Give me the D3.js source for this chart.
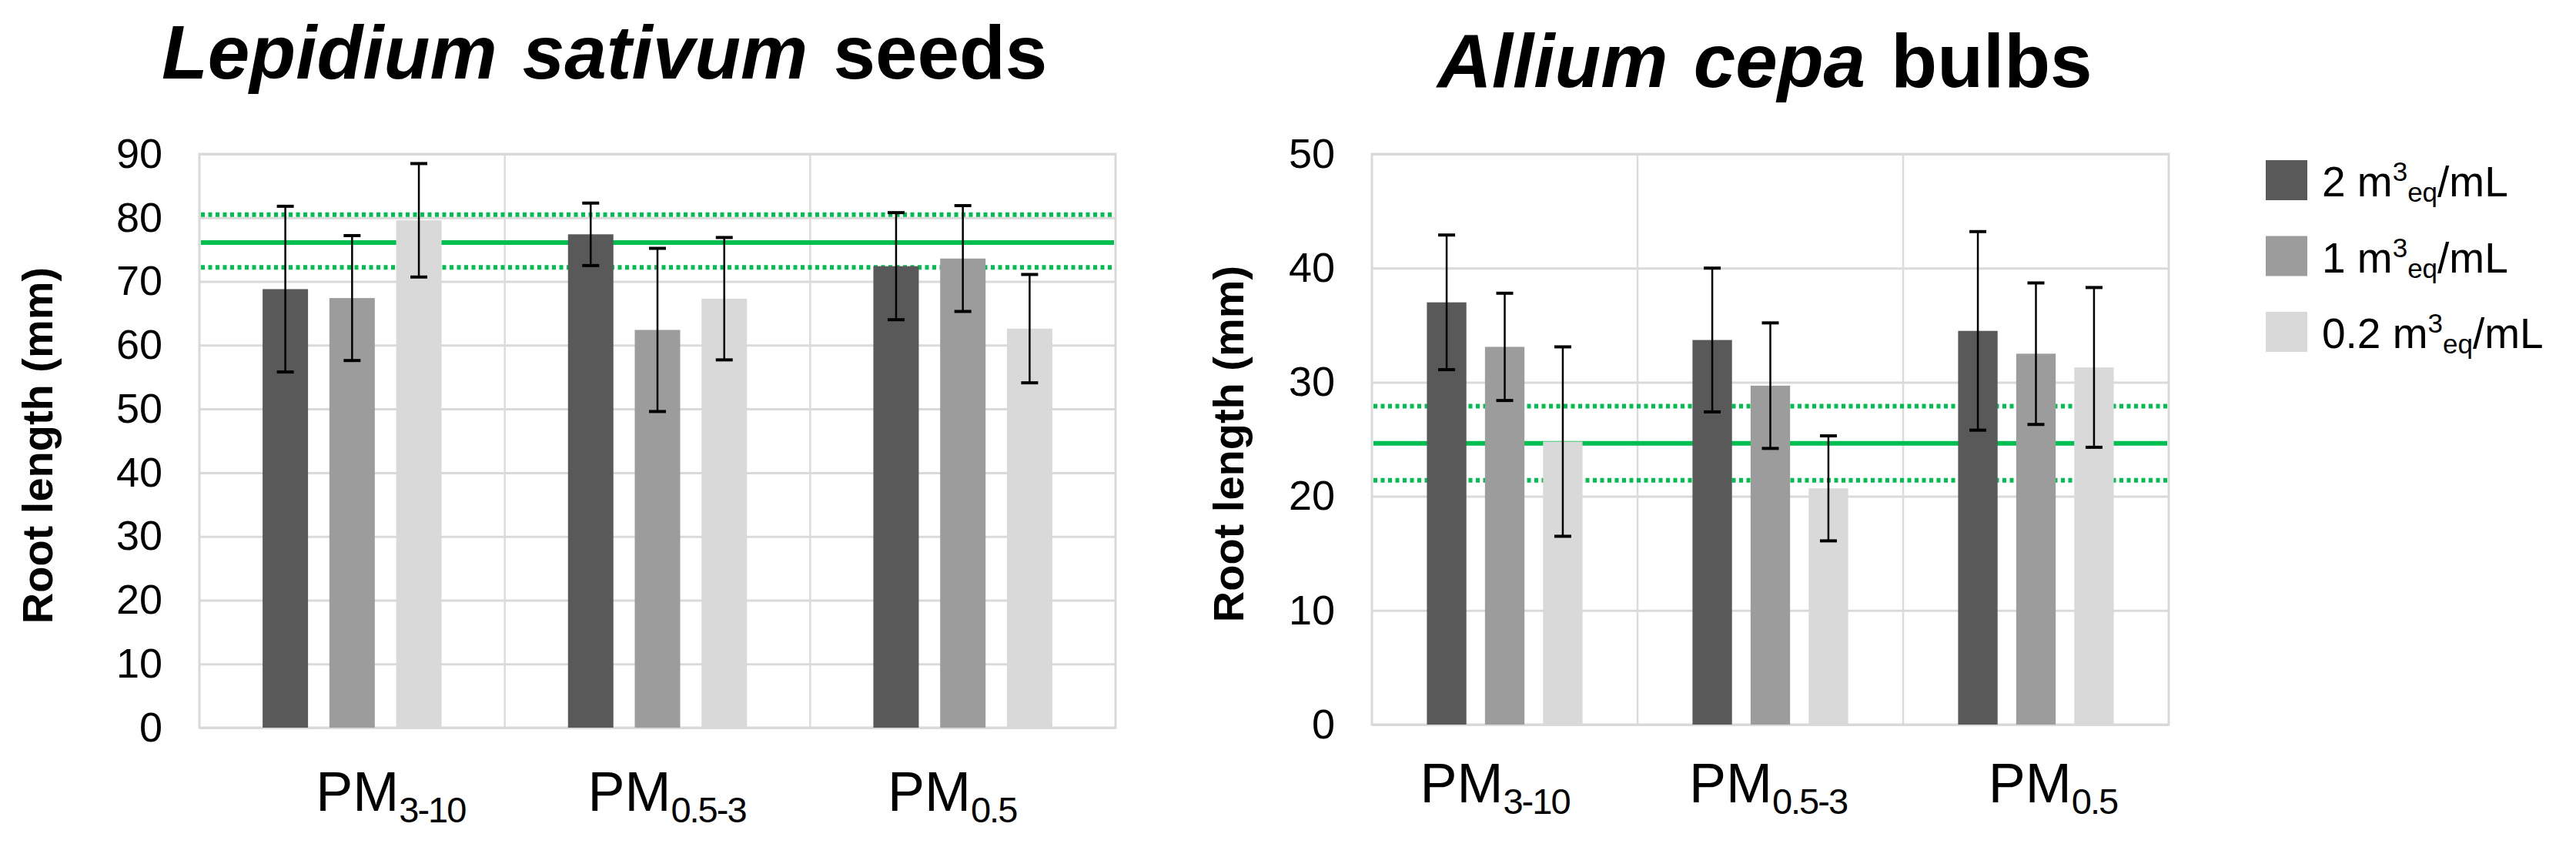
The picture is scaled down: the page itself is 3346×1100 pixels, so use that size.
<!DOCTYPE html>
<html><head><meta charset="utf-8">
<script src="https://cdn.jsdelivr.net/npm/d3@7"></script>
<style>
body{margin:0;background:#fff}
svg{display:block}
text{font-family:"Liberation Sans",Arial,Helvetica,sans-serif;fill:#000}
</style>
</head><body>
<svg id="chart" width="3346" height="1100"></svg>
<script>
// ---------- data ----------
const categoryBase = "PM";
const categorySubs = ["3-10", "0.5-3", "0.5"];
const seriesLabels = ["2", "1", "0.2"];

// Lepidium sativum seeds (mean root length, mm) per series over categories
const lepidium2   = [68.8, 77.4, 72.4];
const lepidium1   = [67.4, 62.4, 73.6];
const lepidium02  = [79.6, 67.3, 62.6];
const lepidiumErr2  = [13.0, 4.9, 8.4];
const lepidiumErr1  = [9.8, 12.8, 8.3];
const lepidiumErr02 = [8.9, 9.6, 8.5];
const lepidiumControl = [76.1, 72.2, 80.5]; // mean, lower, upper
const lepidiumTicks = [0, 10, 20, 30, 40, 50, 60, 70, 80, 90];

// Allium cepa bulbs
const allium2   = [37.0, 33.7, 34.5];
const allium1   = [33.1, 29.7, 32.5];
const allium02  = [24.8, 20.7, 31.3];
const alliumErr2  = [5.9, 6.3, 8.7];
const alliumErr1  = [4.7, 5.5, 6.2];
const alliumErr02 = [8.3, 4.6, 7.0];
const alliumControl = [24.65, 21.4, 27.9];
const alliumTicks = [0, 10, 20, 30, 40, 50];

// ---------- drawing ----------
const colors = ["#595959", "#9c9c9c", "#d9d9d9"];
const green = "#00bf50";
const svg = d3.select("#chart");

function panel(o) {
  const g = svg.append("g");
  const y = d3.scaleLinear().domain([0, o.ticks[o.ticks.length - 1]]).range([o.bottom, o.top]);
  const x0 = d3.scaleBand().domain(categorySubs).range([o.left, o.right]).padding(0);
  const cw = x0.bandwidth();
  const x1 = d3.scaleBand().domain(seriesLabels).range([cw * 0.207, cw * 0.793]).paddingInner(0.32).paddingOuter(0);

  // horizontal gridlines
  const grid = g.append("g").attr("transform", `translate(${o.left},0)`)
    .call(d3.axisLeft(y).tickValues(o.ticks).tickSize(-(o.right - o.left)).tickFormat(""));
  grid.select(".domain").remove();
  grid.selectAll("line").attr("stroke", "#dadada").attr("stroke-width", 3);

  // vertical category separators
  g.append("g").selectAll("line").data(categorySubs.slice(1)).join("line")
    .attr("x1", d => x0(d)).attr("x2", d => x0(d))
    .attr("y1", o.top).attr("y2", o.bottom)
    .attr("stroke", "#dcdcdc").attr("stroke-width", 2.5);
  g.append("rect").attr("x", o.left).attr("y", o.top)
    .attr("width", o.right - o.left).attr("height", o.bottom - o.top)
    .attr("fill", "none").attr("stroke", "#d9d9d9").attr("stroke-width", 3);

  // tick labels
  const ax = g.append("g").attr("transform", `translate(${o.left},0)`)
    .call(d3.axisLeft(y).tickValues(o.ticks).tickSize(0).tickPadding(48));
  ax.select(".domain").remove();
  ax.selectAll("text").attr("font-size", 54).attr("font-family", '"Liberation Sans",Arial,sans-serif').attr("fill", "#000");

  // control lines (behind bars)
  const ctrl = g.append("g");
  o.control.forEach((v, i) => {
    ctrl.append("line")
      .attr("x1", o.left + 2).attr("x2", o.right - 2)
      .attr("y1", y(v)).attr("y2", y(v))
      .attr("stroke", green).attr("stroke-width", i === 0 ? 6 : 6)
      .attr("stroke-dasharray", i === 0 ? null : "5,4.5");
  });

  // bars
  const series = o.means.map((vals, s) => ({s, vals, errs: o.errs[s]}));
  const bars = g.append("g");
  series.forEach(se => {
    bars.selectAll(null).data(categorySubs).join("rect")
      .attr("x", (c) => x0(c) + x1(seriesLabels[se.s]))
      .attr("width", x1.bandwidth())
      .attr("y", (c, i) => y(se.vals[i]))
      .attr("height", (c, i) => y(0) - y(se.vals[i]))
      .attr("fill", colors[se.s]);
  });

  // error bars
  const eb = g.append("g").attr("stroke", "#000").attr("stroke-width", 2.5);
  const cap = 11;
  series.forEach(se => {
    categorySubs.forEach((c, i) => {
      const cx = x0(c) + x1(seriesLabels[se.s]) + x1.bandwidth() / 2;
      const hi = y(se.vals[i] + se.errs[i]), lo = y(se.vals[i] - se.errs[i]);
      eb.append("line").attr("x1", cx).attr("x2", cx).attr("y1", hi).attr("y2", lo);
      eb.append("line").attr("x1", cx - cap).attr("x2", cx + cap).attr("y1", hi).attr("y2", hi).attr("stroke-width", 4);
      eb.append("line").attr("x1", cx - cap).attr("x2", cx + cap).attr("y1", lo).attr("y2", lo).attr("stroke-width", 4);
    });
  });

  // category labels
  const lab = g.append("g").selectAll("text").data(categorySubs).join("text")
    .attr("x", (d, i) => x0(d) + cw / 2 + o.labelDx[i])
    .attr("y", o.labelY)
    .attr("text-anchor", "middle")
    .attr("font-size", 72);
  lab.append("tspan").text(categoryBase);
  lab.append("tspan").attr("font-size", 47).attr("dy", 15).attr("letter-spacing", -2).text(d => d);

  // axis title
  g.append("text")
    .attr("transform", `translate(${o.axisTitleX},${(o.top + o.bottom) / 2 + 6}) rotate(-90)`)
    .attr("text-anchor", "middle").attr("font-size", 56).attr("font-weight", "bold")
    .text("Root length (mm)");

  // title
  const t = g.append("text").attr("x", o.titleX).attr("y", o.titleY)
    .attr("font-size", 98).attr("font-weight", "bold").attr("word-spacing", 6);
  t.append("tspan").attr("font-style", "italic").text(o.titleItalic);
  t.append("tspan").text(" " + o.titleRest);
}

panel({
  left: 259, right: 1449, top: 200, bottom: 945,
  ticks: lepidiumTicks,
  means: [lepidium2, lepidium1, lepidium02],
  errs: [lepidiumErr2, lepidiumErr1, lepidiumErr02],
  control: lepidiumControl,
  labelY: 1053, labelDx: [50, 12, -14],
  axisTitleX: 68,
  titleX: 210, titleY: 102, titleItalic: "Lepidium sativum", titleRest: "seeds"
});

panel({
  left: 1782, right: 2817, top: 200, bottom: 941,
  ticks: alliumTicks,
  means: [allium2, allium1, allium02],
  errs: [alliumErr2, alliumErr1, alliumErr02],
  control: alliumControl,
  labelY: 1042, labelDx: [-13, -3, 22],
  axisTitleX: 1615,
  titleX: 1867, titleY: 113, titleItalic: "Allium cepa", titleRest: "bulbs"
});

// legend
const leg = svg.append("g").selectAll("g").data(seriesLabels).join("g")
  .attr("transform", (d, i) => `translate(2943,${208 + i * 98.5})`);
leg.append("rect").attr("width", 54).attr("height", 52).attr("fill", (d, i) => colors[i]);
const lt = leg.append("text").attr("x", 73).attr("y", 47).attr("font-size", 55);
lt.append("tspan").text(d => d + " m");
lt.append("tspan").attr("font-size", 35).attr("dy", -20).text("3");
lt.append("tspan").attr("font-size", 35).attr("dy", 27).text("eq");
lt.append("tspan").attr("dy", -7).text("/mL");
</script>
</body></html>
